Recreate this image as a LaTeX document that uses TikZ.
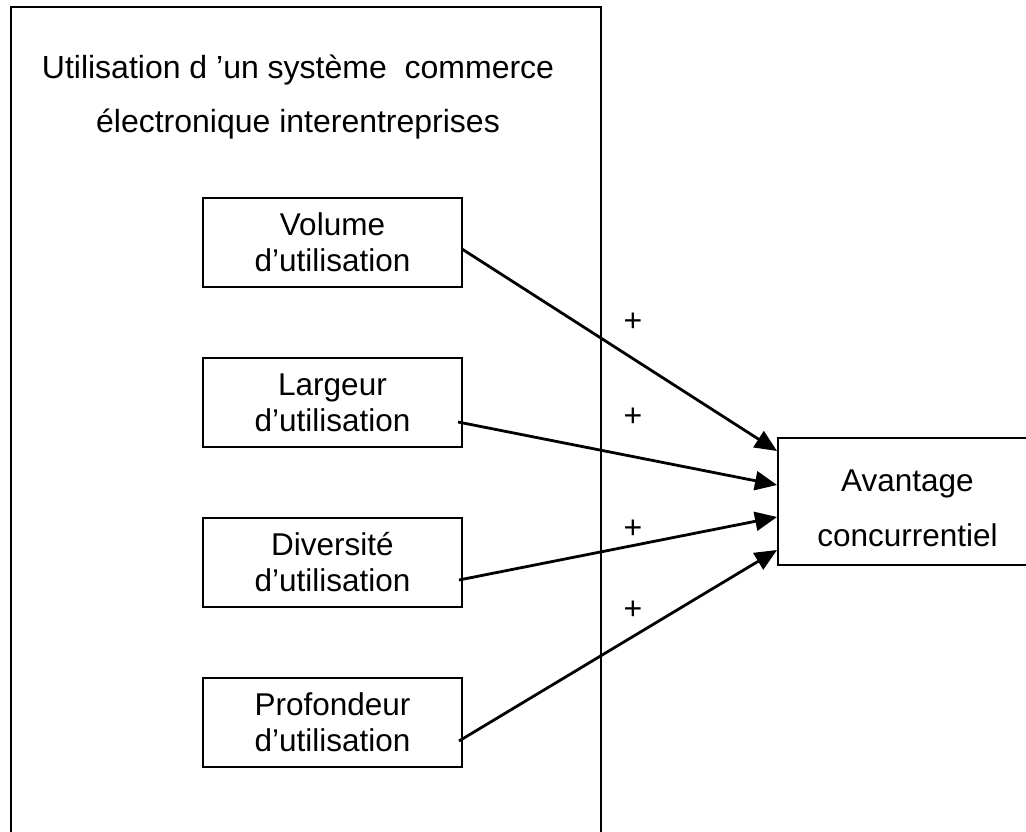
\documentclass[tikz,border=0pt]{standalone}
\usepackage{fontspec}
\setmainfont{Liberation Sans}
\usetikzlibrary{arrows.meta,calc}
\begin{document}
\begin{tikzpicture}
  [x=1pt,y=-1pt,
  usage/.style={rectangle,draw=black,line width=2pt,align=center,
                  inner sep=0,minimum width=259,minimum height=89,
                  font=\fontsize{31.5}{36}\selectfont},
  effect/.style={rectangle,draw=black,line width=2pt,align=center,
                  inner sep=0,minimum width=259,minimum height=127,
                  font=\fontsize{31.5}{55}\selectfont},
  sign/.style={inner sep=0,font=\fontsize{32}{36}\selectfont},
  link/.style={line width=2.8pt,-{Triangle[length=22pt,width=19pt]}}
                  ]
  \clip (0,0) rectangle (1026,832);
  \fill[white] (0,0) rectangle (1026,832);

  % cadre du systeme
  \draw[line width=2pt] (11,7) rectangle (601,860);
  \node[anchor=base,align=center,font=\fontsize{32}{54}\selectfont]
    (titre) at (298,133) {Utilisation d 'un système \ commerce\\électronique interentreprises};

  \node[usage] (volume) at (332.5,242.5) {Volume\\d’utilisation};
  \node[usage] (largeur) at (332.5,402.5) {Largeur\\d’utilisation};
  \node[usage] (diversite) at (332.5,562.5) {Diversité\\d’utilisation};
  \node[usage] (profondeur) at (332.5,722.5) {Profondeur\\d’utilisation};
  \node[effect] (avantage) at (907.5,501.5) {\rule{0pt}{35pt}Avantage\\concurrentiel};

  \node[sign] (plus1) at (633,322) {+};
  \node[sign] (plus2) at (633,417) {+};
  \node[sign] (plus3) at (633,529) {+};
  \node[sign] (plus4) at (633,610) {+};

  \draw[link] ($(volume.east)+(-1,6.5)$) to ($(avantage.west)+(0,-50.5)$);
  \draw[link] ($(largeur.east)+(-5,19.5)$) to ($(avantage.west)+(0,-16.5)$);
  \draw[link] ($(diversite.east)+(-4,17.5)$) to ($(avantage.west)+(0,15.5)$);
  \draw[link] ($(profondeur.east)+(-4,18.5)$) to ($(avantage.west)+(0,48.5)$);
\end{tikzpicture}
\end{document}
